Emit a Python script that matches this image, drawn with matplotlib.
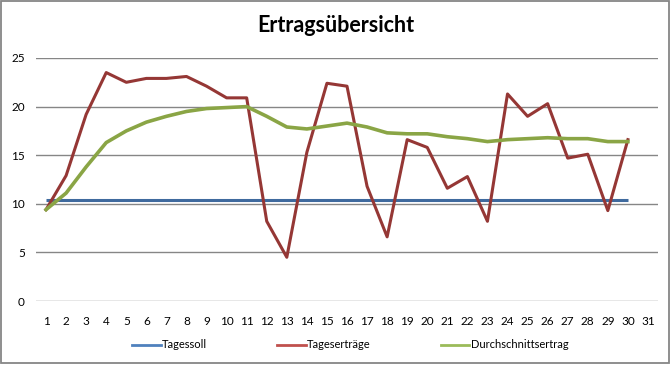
import matplotlib
matplotlib.use("Agg")
import matplotlib.pyplot as plt
from matplotlib.lines import Line2D
from matplotlib.patches import Rectangle

plt.rcParams["font.family"] = ["Lato", "DejaVu Sans"]

days = list(range(1, 31))
day_ticks = list(range(1, 32))

tagessoll = [10.4] * 30
tagesertraege = [9.4, 12.9, 19.2, 23.5, 22.5, 22.9, 22.9, 23.1, 22.1, 20.9,
                 20.9, 8.2, 4.5, 15.3, 22.4, 22.1, 11.8, 6.6, 16.6, 15.8,
                 11.6, 12.8, 8.2, 21.3, 19.0, 20.3, 14.7, 15.1, 9.3, 16.6]
durchschnitt = [9.4, 11.1, 13.8, 16.3, 17.5, 18.4, 19.0, 19.5, 19.8, 19.9,
                20.0, 19.0, 17.9, 17.7, 18.0, 18.3, 17.9, 17.3, 17.2, 17.2,
                16.9, 16.7, 16.4, 16.6, 16.7, 16.8, 16.7, 16.7, 16.4, 16.4]

labels = ["Tagessoll", "Tageserträge", "Durchschnittsertrag"]
line_colors = ["#3F6A9E", "#953735", "#8AA545"]
legend_colors = ["#4F81BD", "#C0504D", "#9BBB59"]

fig = plt.figure(figsize=(6.71, 3.70), dpi=100)
ax = fig.add_axes([36 / 671, 1 - 301 / 370, 622 / 671, 243 / 370])

ax.plot(days, tagessoll, color=line_colors[0], linewidth=2.2, solid_capstyle="butt")
ax.plot(days, tagesertraege, color=line_colors[1], linewidth=2.2)
ax.plot(days, durchschnitt, color=line_colors[2], linewidth=2.6)

ax.set_xlim(0.5, 31.5)
ax.set_ylim(0, 25)
ax.set_yticks(range(0, 26, 5))
ax.set_xticks(day_ticks)
ax.yaxis.grid(True, color="#868686", linewidth=1.0)
ax.set_axisbelow(True)
for side in ("top", "right", "left", "bottom"):
    ax.spines[side].set_visible(False)
ax.tick_params(axis="both", length=0, labelsize=8.5)
ax.tick_params(axis="x", pad=11)
ax.tick_params(axis="y", pad=8)

fig.text(0.5, 1 - 25 / 370, "Ertragsübersicht", ha="center", va="center",
         fontsize=15.5, fontweight="bold")

handles = [Line2D([0], [0], color=c, linewidth=2.0) for c in legend_colors]
fig.legend(handles, labels, loc="center", bbox_to_anchor=(350 / 671, 1 - 345 / 370),
           ncol=3, frameon=False, fontsize=8, handlelength=2.6, handletextpad=0.1,
           columnspacing=6.3)

fig.patches.append(Rectangle((0.5 / 671, 1 - 363 / 370), 668 / 671, 362.5 / 370,
                             transform=fig.transFigure, fill=False,
                             edgecolor="#868686", linewidth=1.3))

fig.savefig("out.png", dpi=100)
